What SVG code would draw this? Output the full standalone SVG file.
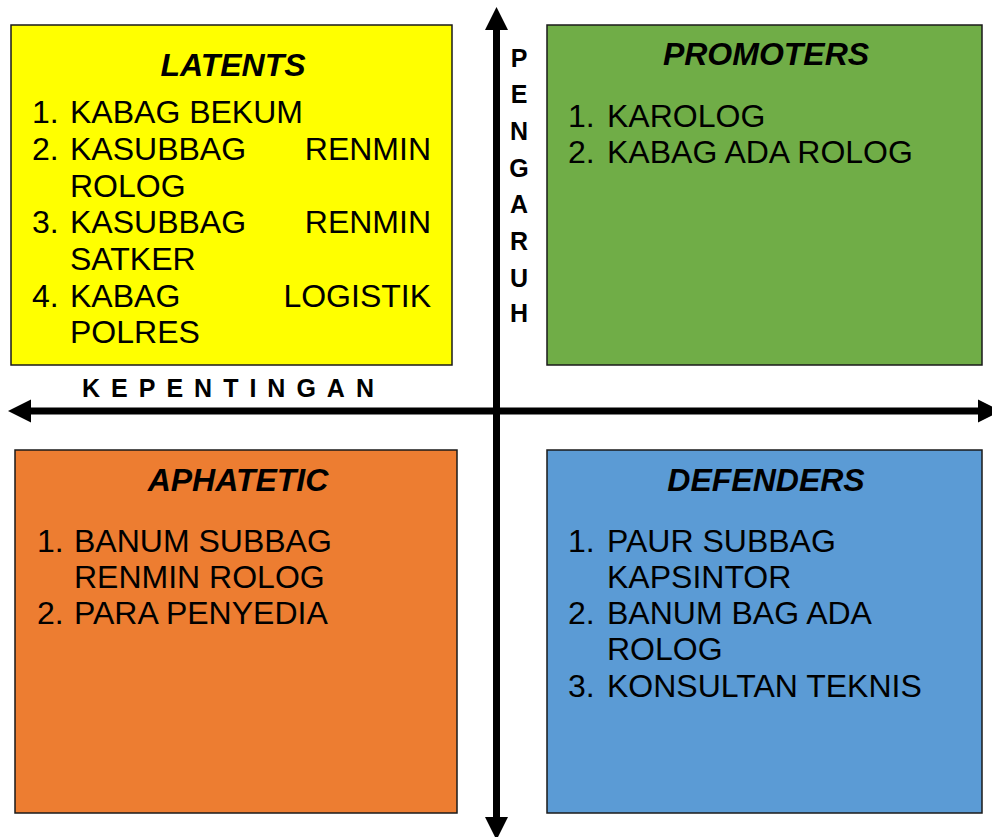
<svg xmlns="http://www.w3.org/2000/svg" width="992" height="837" viewBox="0 0 992 837">
<style>
.box{stroke:#1a1a1a;stroke-width:1.5}
.title{font-family:"Liberation Sans",Arial,sans-serif;font-size:32px;font-weight:bold;font-style:italic;fill:#000;text-anchor:middle}
.item{font-family:"Liberation Sans",Arial,sans-serif;font-size:32px;fill:#000}
.end{text-anchor:end}
.axis{stroke:#000;stroke-width:7;fill:none}
.head{fill:#000}
.lbl{font-family:"Liberation Sans",Arial,sans-serif;font-size:25px;font-weight:bold;fill:#000}
</style>
<rect width="992" height="837" fill="#fff"/>
<g id="connectors">
<line class="axis" x1="496.5" y1="28" x2="496.5" y2="818"/>
<polygon class="head" points="496.5,7 508,30 485,30"/>
<polygon class="head" points="496.5,840 508,817 485,817"/>
<line class="axis" x1="30" y1="411" x2="980" y2="411"/>
<polygon class="head" points="8,411 31,399.5 31,422.5"/>
<polygon class="head" points="1001,411 978,399.5 978,422.5"/>
</g>
<g id="latents">
<rect class="box" x="11" y="25" width="441" height="340" fill="#FFFF00"/>
<text class="title" x="233" y="76">LATENTS</text>
<text class="item" x="32" y="123">1.</text><text class="item" x="70" y="123">KABAG BEKUM</text>
<text class="item" x="32" y="160">2.</text><text class="item" x="70" y="160">KASUBBAG</text><text class="item end" x="431" y="160">RENMIN</text>
<text class="item" x="70" y="197">ROLOG</text>
<text class="item" x="32" y="233">3.</text><text class="item" x="70" y="233">KASUBBAG</text><text class="item end" x="431" y="233">RENMIN</text>
<text class="item" x="70" y="270">SATKER</text>
<text class="item" x="32" y="307">4.</text><text class="item" x="70" y="307">KABAG</text><text class="item end" x="431" y="307">LOGISTIK</text>
<text class="item" x="70" y="343">POLRES</text>
</g>
<g id="promoters">
<rect class="box" x="547" y="25" width="435" height="340" fill="#70AD47"/>
<text class="title" x="766" y="65">PROMOTERS</text>
<text class="item" x="568" y="127">1.</text><text class="item" x="607" y="127">KAROLOG</text>
<text class="item" x="568" y="163">2.</text><text class="item" x="607" y="163">KABAG ADA ROLOG</text>
</g>
<g id="aphatetic">
<rect class="box" x="15" y="450" width="442" height="363" fill="#ED7D31"/>
<text class="title" x="238" y="491">APHATETIC</text>
<text class="item" x="37" y="552">1.</text><text class="item" x="74" y="552">BANUM SUBBAG</text>
<text class="item" x="74" y="588">RENMIN ROLOG</text>
<text class="item" x="37" y="624">2.</text><text class="item" x="74" y="624">PARA PENYEDIA</text>
</g>
<g id="defenders">
<rect class="box" x="547" y="450" width="435" height="363" fill="#5B9BD5"/>
<text class="title" x="766" y="491">DEFENDERS</text>
<text class="item" x="568" y="552">1.</text><text class="item" x="607" y="552">PAUR SUBBAG</text>
<text class="item" x="607" y="588">KAPSINTOR</text>
<text class="item" x="568" y="624">2.</text><text class="item" x="607" y="624">BANUM BAG ADA</text>
<text class="item" x="607" y="660">ROLOG</text>
<text class="item" x="568" y="697">3.</text><text class="item" x="607" y="697">KONSULTAN TEKNIS</text>
</g>
<g id="pengaruh-label">
<text class="lbl" x="519" y="67" text-anchor="middle">P</text>
<text class="lbl" x="519" y="103" text-anchor="middle">E</text>
<text class="lbl" x="519" y="140" text-anchor="middle">N</text>
<text class="lbl" x="519" y="177" text-anchor="middle">G</text>
<text class="lbl" x="519" y="213" text-anchor="middle">A</text>
<text class="lbl" x="519" y="250" text-anchor="middle">R</text>
<text class="lbl" x="519" y="287" text-anchor="middle">U</text>
<text class="lbl" x="519" y="322" text-anchor="middle">H</text>
</g>
<g id="kepentingan-label">
<text class="lbl" x="82" y="397" letter-spacing="11">KEPENTINGAN</text>
</g>
</svg>
